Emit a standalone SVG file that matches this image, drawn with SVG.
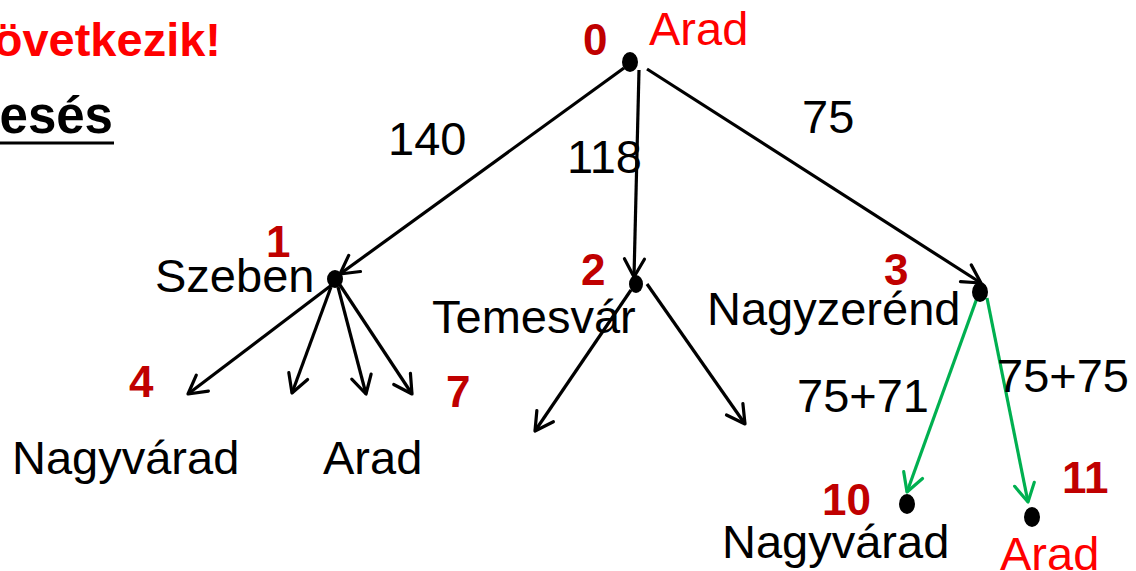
<svg xmlns="http://www.w3.org/2000/svg" width="1136" height="571" viewBox="0 0 1136 571">
  <style>
    text { font-family: "Liberation Sans", Arial, sans-serif; }
    .lbl { font-size: 47px; fill: #000; }
    .red { fill: #FF0000; }
    .num { font-size: 44px; font-weight: bold; fill: #C00000; }
    .edge { stroke: #000; stroke-width: 3.2; fill: none; marker-end: url(#arrow); }
    .edge.green { stroke: #00B050; marker-end: url(#arrowGreen); }
    .dot { fill: #000; }
  </style>
  <defs>
    <marker id="arrow" markerUnits="userSpaceOnUse" markerWidth="40" markerHeight="40" viewBox="-20 -20 40 40" refX="0" refY="0" orient="auto" overflow="visible">
      <path d="M-18,-10 L0,0 L-18,10" fill="none" stroke="#000" stroke-width="3.2" stroke-linecap="round" stroke-linejoin="round"/>
    </marker>
    <marker id="arrowGreen" markerUnits="userSpaceOnUse" markerWidth="40" markerHeight="40" viewBox="-20 -20 40 40" refX="0" refY="0" orient="auto" overflow="visible">
      <path d="M-18,-10 L0,0 L-18,10" fill="none" stroke="#00B050" stroke-width="3.2" stroke-linecap="round" stroke-linejoin="round"/>
    </marker>
  </defs>

  <rect width="1136" height="571" fill="#fff"/>

  <!-- heading fragments at the left edge -->
  <text x="221" y="56" font-size="47" font-weight="bold" fill="#FF0000" text-anchor="end">övetkezik!</text>
  <text x="113" y="133" font-size="51" font-weight="bold" fill="#000" text-anchor="end">esés</text>
  <line x1="0" y1="143" x2="114" y2="143" stroke="#000" stroke-width="3"/>

  <!-- connectors -->
  <g id="connectors">
    <line class="edge" x1="624" y1="68" x2="340" y2="274"/>
    <line class="edge" x1="639" y1="70" x2="634" y2="277"/>
    <line class="edge" x1="647" y1="69" x2="981" y2="283"/>
    <line class="edge" x1="333" y1="284" x2="188" y2="394"/>
    <line class="edge" x1="331" y1="287" x2="292" y2="393"/>
    <line class="edge" x1="338" y1="287" x2="366" y2="394"/>
    <line class="edge" x1="340" y1="285" x2="412" y2="394"/>
    <line class="edge" x1="631" y1="290" x2="535" y2="431"/>
    <line class="edge" x1="647" y1="284" x2="745" y2="424"/>
    <line class="edge green" x1="977" y1="298" x2="907" y2="492"/>
    <line class="edge green" x1="987" y1="298" x2="1028" y2="502"/>
  </g>

  <!-- edge costs -->
  <g id="costs">
    <text class="lbl" x="388" y="155">140</text>
    <text class="lbl" x="567" y="173">118</text>
    <text class="lbl" x="802" y="133">75</text>
    <text class="lbl" x="797" y="412">75+71</text>
    <text class="lbl" x="997" y="392">75+75</text>
  </g>

  <g id="n0">
    <ellipse class="dot" cx="630" cy="62" rx="8" ry="10"/>
    <text class="num" x="583" y="55">0</text>
    <text class="lbl red" x="649" y="45">Arad</text>
  </g>
  <g id="n1">
    <ellipse class="dot" cx="335" cy="279" rx="8" ry="9"/>
    <text class="num" x="266" y="257">1</text>
    <text class="lbl" x="155" y="292">Szeben</text>
  </g>
  <g id="n2">
    <ellipse class="dot" cx="636" cy="284" rx="7" ry="9"/>
    <text class="num" x="581" y="285">2</text>
    <text class="lbl" x="432" y="333">Temesvár</text>
  </g>
  <g id="n3">
    <ellipse class="dot" cx="980" cy="292" rx="8" ry="10"/>
    <text class="num" x="884" y="285">3</text>
    <text class="lbl" x="707" y="325">Nagyzerénd</text>
  </g>
  <g id="n4">
    <text class="num" x="129" y="397">4</text>
    <text class="lbl" x="12" y="474">Nagyvárad</text>
  </g>
  <g id="n6">
    <text class="lbl" x="323" y="474">Arad</text>
  </g>
  <g id="n7">
    <text class="num" x="446" y="407">7</text>
  </g>
  <g id="n10">
    <ellipse class="dot" cx="907" cy="504" rx="8" ry="10"/>
    <text class="num" x="822" y="515">10</text>
    <text class="lbl" x="722" y="558">Nagyvárad</text>
  </g>
  <g id="n11">
    <ellipse class="dot" cx="1032" cy="517" rx="8" ry="10"/>
    <text class="num" x="1062" y="493">11</text>
    <text class="lbl red" x="1000" y="570">Arad</text>
  </g>
</svg>
